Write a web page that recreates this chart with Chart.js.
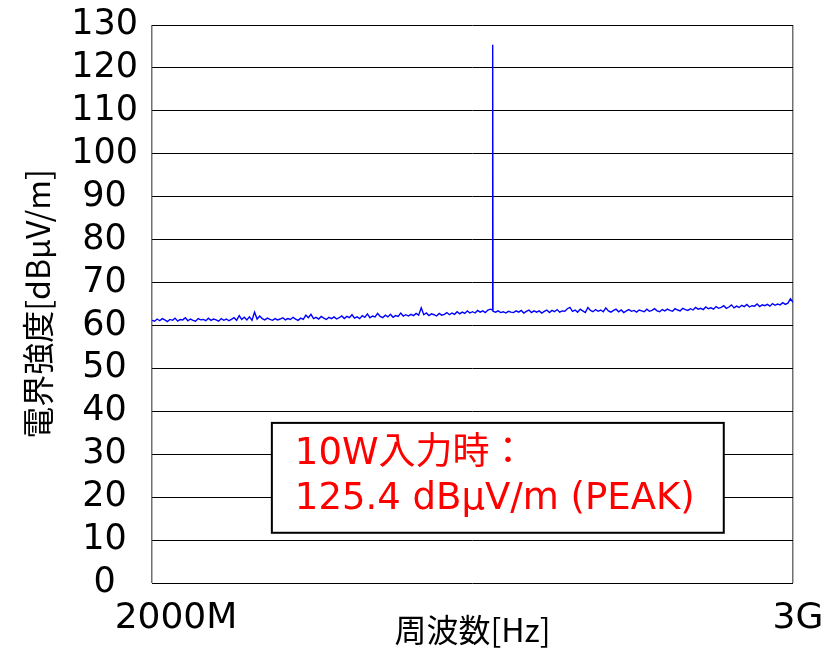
<!DOCTYPE html>
<html>
<head>
<meta charset="utf-8">
<script src="https://cdn.jsdelivr.net/npm/chart.js@4.4.1/dist/chart.umd.min.js"></script>
<style>
  html, body { margin: 0; padding: 0; background: #fff; }
  #wrap { width: 834px; height: 649px; }
</style>
</head>
<body>
<div id="wrap"><canvas id="c"></canvas></div>
<script>
// 掃引: 2000MHz〜3000MHz, 4MHz ステップ (画面から読み取り)
const sweepStartMHz = 2000;
const sweepStepMHz = 4;
const levels = [
  61.2, 61.0, 61.5, 61.1, 61.6, 61.3, 60.9, 61.4, 61.2, 61.7, 61.0, 61.4, 61.3, 61.8, 61.1, 61.5, 61.2, 61.0, 61.6, 61.3, 61.4, 61.1, 61.7, 61.2, 61.5,
  61.3, 61.0, 61.6, 61.2, 61.5, 61.1, 61.4, 61.8, 61.2, 62.3, 61.4, 61.9, 61.3, 62.0, 61.2, 63.1, 61.5, 62.2, 61.6, 61.3, 61.7, 61.4, 61.2, 61.6, 61.3,
  61.5, 61.8, 61.3, 61.6, 61.4, 61.9, 61.5, 61.2, 61.7, 61.4, 62.4, 61.8, 62.6, 61.6, 61.9, 61.5, 62.1, 61.7, 61.4, 61.9, 61.6, 62.0, 61.5, 61.8, 62.2,
  61.6, 62.1, 61.8, 62.5, 61.7, 62.0, 61.6, 62.3, 61.9, 62.7, 61.8, 62.2, 62.0, 62.8, 62.1, 61.8, 62.4, 62.0, 62.6, 61.9, 62.3, 62.1, 62.9, 62.2, 62.5,
  62.2, 62.6, 62.3, 62.8, 62.4, 64.1, 62.5, 62.9, 62.3, 62.7, 62.5, 62.2, 62.8, 62.4, 62.6, 63.0, 62.5, 62.9, 62.6, 63.2, 62.7, 63.1, 62.8, 63.4, 62.9,
  63.2, 62.9, 63.5, 63.1, 63.4, 63.0, 63.6, 63.8, 63.3, 63.1, 63.4, 63.0, 63.2, 62.9, 63.3, 63.1, 63.0, 63.4, 63.1, 63.5, 62.9, 63.3, 63.6, 63.0, 63.4,
  63.1, 63.4, 62.9, 63.3, 63.6, 63.0, 63.5, 63.2, 63.7, 63.1, 63.4, 63.3, 63.9, 64.2, 63.3, 63.6, 63.1, 63.8, 63.4, 63.0, 64.2, 63.5, 63.2, 63.7, 63.3,
  63.6, 63.2, 64.1, 63.4, 63.1, 63.5, 63.8, 63.2, 63.6, 63.0, 63.4, 63.7, 63.3, 63.5, 63.1, 63.6, 63.4, 63.2, 63.8, 63.3, 63.5, 63.9, 63.4, 63.2, 63.7,
  63.4, 63.8, 63.5, 63.3, 63.9, 63.6, 63.4, 64.0, 63.7, 63.5, 63.9, 63.6, 64.2, 63.8, 64.0, 63.7, 64.3, 63.9, 64.1, 63.8, 64.4, 64.0, 64.2, 64.6, 64.0,
  64.3, 64.8, 64.1, 64.5, 64.2, 64.7, 64.4, 64.9, 64.3, 64.6, 64.5, 65.0, 64.4, 64.8, 64.6, 64.9, 64.5, 65.1, 64.7, 65.0, 64.8, 65.3, 64.9, 65.2, 66.2,
  65.4
];
// ピーク (10W入力時)
const peakFreqMHz = [2531, 2531.5];
const peakLevel = [63.6, 125.4];

const xTickValues = [2000, 3000];
const xTickLabels = ['2000M', '3G'];
const yTickMin = 0, yTickMax = 130, yTickStep = 10;

const noteLines = ['10W入力時：', '125.4 dBμV/m (PEAK)'];

const points = levels.map((v, i) => ({ x: sweepStartMHz + i * sweepStepMHz, y: v }))
  .concat(peakFreqMHz.map((f, i) => ({ x: f, y: peakLevel[i] })))
  .sort((a, b) => a.x - b.x);

const numFont = "'DejaVu Sans', 'Noto Sans CJK JP', sans-serif";
const jpFont = "'Noto Sans CJK JP', 'DejaVu Sans', sans-serif";

// x 軸ラベル (2000M / 3G)
const xLabelPlugin = {
  id: 'xLabels',
  afterDraw(chart) {
    const ctx = chart.ctx, xs = chart.scales.x, area = chart.chartArea;
    const shift = [24, 5];
    ctx.save();
    ctx.font = '36px ' + numFont;
    ctx.fillStyle = '#000';
    ctx.textAlign = 'center';
    ctx.textBaseline = 'alphabetic';
    xTickValues.forEach((v, i) => {
      ctx.fillText(xTickLabels[i], xs.getPixelForValue(v) + shift[i], area.bottom + 45);
    });
    ctx.restore();
  }
};

// 注記ボックス
const noteBox = { xMin: 2187, xMax: 2892, yMin: 11.7, yMax: 37.3 };
const notePlugin = {
  id: 'note',
  afterDatasetsDraw(chart) {
    const ctx = chart.ctx, xs = chart.scales.x, ys = chart.scales.y;
    const l = xs.getPixelForValue(noteBox.xMin), r = xs.getPixelForValue(noteBox.xMax);
    const t = ys.getPixelForValue(noteBox.yMax), b = ys.getPixelForValue(noteBox.yMin);
    ctx.save();
    ctx.fillStyle = '#fff';
    ctx.fillRect(l, t, r - l, b - t);
    ctx.strokeStyle = '#000';
    ctx.lineWidth = 2;
    ctx.strokeRect(l, t, r - l, b - t);
    ctx.fillStyle = '#ff0000';
    ctx.font = '37px ' + numFont;
    ctx.textAlign = 'left';
    ctx.textBaseline = 'alphabetic';
    noteLines.forEach((s, i) => ctx.fillText(s, l + 23, t + 41 + i * 45));
    ctx.restore();
  }
};

new Chart(document.getElementById('c'), {
  type: 'line',
  data: {
    datasets: [{
      data: points,
      borderColor: '#0000ff',
      borderWidth: 1.4,
      pointRadius: 0,
      tension: 0,
      fill: false
    }]
  },
  options: {
    responsive: true,
    maintainAspectRatio: false,
    animation: false,
    layout: { padding: { top: 25, right: 41, left: 0, bottom: 0 } },
    plugins: { legend: { display: false }, tooltip: { enabled: false } },
    scales: {
      x: {
        type: 'linear',
        min: 2000, max: 3000,
        afterBuildTicks: s => { s.ticks = xTickValues.map(v => ({ value: v })); },
        afterFit: s => { s.height = 66; s.paddingLeft = 0; s.paddingRight = 0; },
        ticks: { display: false },
        grid: { color: '#707070', lineWidth: 1.5, drawTicks: false },
        border: { display: false },
        title: {
          display: true,
          text: '周波数[Hz]',
          color: '#000',
          font: { family: jpFont, size: 32, lineHeight: 1.2 },
          padding: { top: 0, bottom: 0 }
        }
      },
      y: {
        min: yTickMin, max: yTickMax,
        afterFit: s => { s.width = 152; s.paddingTop = 0; s.paddingBottom = 0; },
        ticks: {
          stepSize: yTickStep,
          autoSkip: false,
          padding: 14,
          crossAlign: 'center',
          color: '#000',
          font: { family: numFont, size: 35 }
        },
        grid: { color: '#000', lineWidth: 1, drawTicks: false },
        border: { display: false },
        title: {
          display: true,
          text: '電界強度[dBμV/m]',
          color: '#000',
          font: { family: jpFont, size: 32, lineHeight: 1.2 },
          padding: { top: 19, bottom: 0 }
        }
      }
    }
  },
  plugins: [notePlugin, xLabelPlugin]
});
</script>
</body>
</html>
